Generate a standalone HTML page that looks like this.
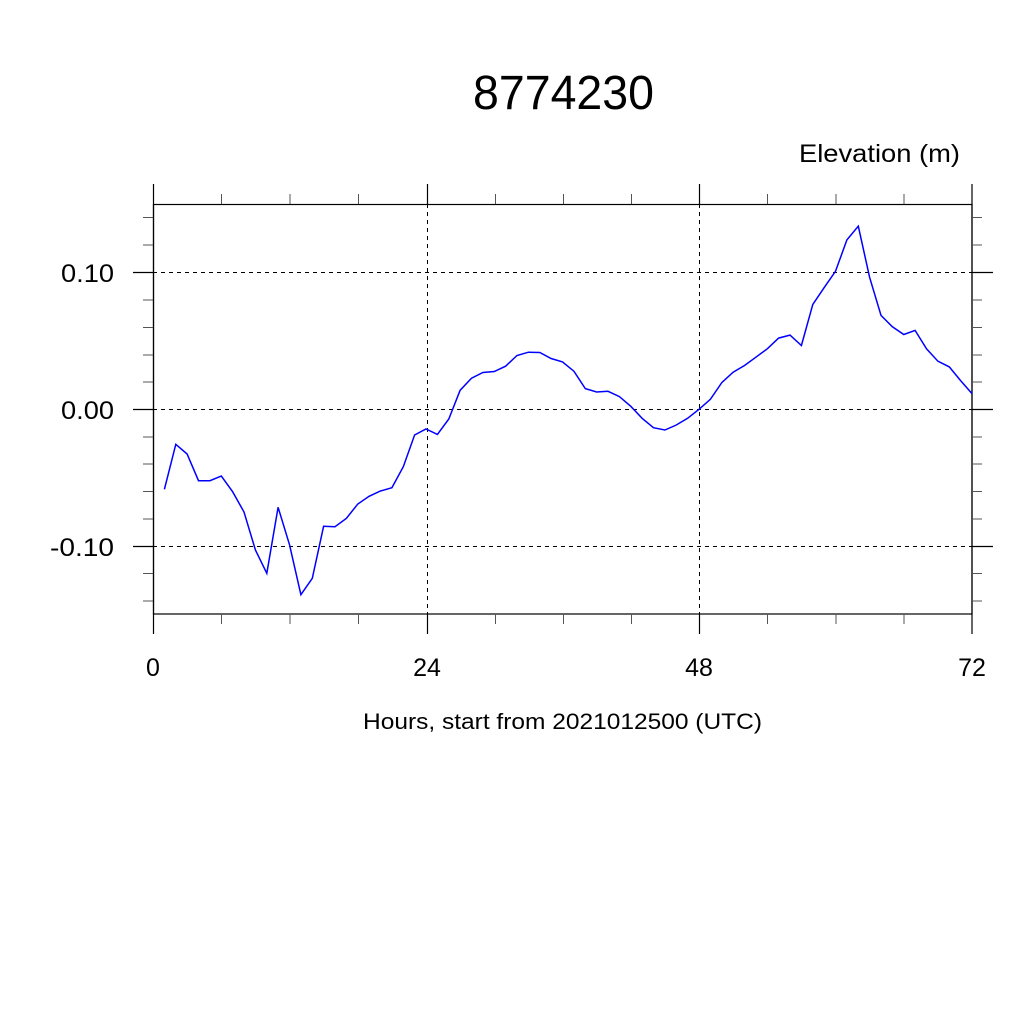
<!DOCTYPE html>
<html><head><meta charset="utf-8"><style>html,body{margin:0;padding:0;background:#fff}svg{display:block}</style></head>
<body>
<svg width="1024" height="1024" viewBox="0 0 1024 1024" xmlns="http://www.w3.org/2000/svg" font-family="'Liberation Sans', sans-serif">
<rect width="1024" height="1024" fill="#fff"/>
<text x="473" y="109" font-size="48" textLength="181" lengthAdjust="spacingAndGlyphs">8774230</text>
<text x="799" y="162" font-size="25" textLength="161" lengthAdjust="spacingAndGlyphs">Elevation (m)</text>
<g stroke="#000" stroke-width="1" stroke-dasharray="4,4" fill="none">
<line x1="153" y1="272.5" x2="972" y2="272.5"/>
<line x1="153" y1="409.5" x2="972" y2="409.5"/>
<line x1="153" y1="546.5" x2="972" y2="546.5"/>
<line x1="427.5" y1="204" x2="427.5" y2="614"/>
<line x1="699.5" y1="204" x2="699.5" y2="614"/>
</g>
<g stroke="#000" stroke-width="1.2" fill="none">
<rect x="153.5" y="204.5" width="818.5" height="409.5"/>
<line x1="153.5" y1="184" x2="153.5" y2="634"/>
<line x1="427.5" y1="184" x2="427.5" y2="204"/><line x1="427.5" y1="614" x2="427.5" y2="634"/>
<line x1="699.5" y1="184" x2="699.5" y2="204"/><line x1="699.5" y1="614" x2="699.5" y2="634"/>
<line x1="972" y1="184" x2="972" y2="634"/>
<line x1="133" y1="272.5" x2="153" y2="272.5"/><line x1="972" y1="272.5" x2="993" y2="272.5"/>
<line x1="133" y1="409.5" x2="153" y2="409.5"/><line x1="972" y1="409.5" x2="993" y2="409.5"/>
<line x1="133" y1="546.5" x2="153" y2="546.5"/><line x1="972" y1="546.5" x2="993" y2="546.5"/>
</g>
<g stroke="#555" stroke-width="1" fill="none">
<path d="M221.5 194V204M290 194V204M358.5 194V204M495.5 194V204M563.5 194V204M631.5 194V204M767.5 194V204M836 194V204M904 194V204"/>
<path d="M221.5 614V624M290 614V624M358.5 614V624M495.5 614V624M563.5 614V624M631.5 614V624M767.5 614V624M836 614V624M904 614V624"/>
<path d="M143 217.5H153M143 245H153M143 300H153M143 327.5H153M143 355H153M143 382H153M143 437H153M143 464H153M143 491.5H153M143 519H153M143 573.5H153M143 601H153"/>
<path d="M972 217.5H982M972 245H982M972 300H982M972 327.5H982M972 355H982M972 382H982M972 437H982M972 464H982M972 491.5H982M972 519H982M972 573.5H982M972 601H982"/>
</g>
<g font-size="25">
<text x="61" y="282" textLength="53" lengthAdjust="spacingAndGlyphs">0.10</text>
<text x="61" y="419" textLength="53" lengthAdjust="spacingAndGlyphs">0.00</text>
<text x="50" y="556" textLength="64" lengthAdjust="spacingAndGlyphs">-0.10</text>
</g>
<g font-size="25" text-anchor="middle">
<text x="153" y="676">0</text>
<text x="427" y="676">24</text>
<text x="699" y="676">48</text>
<text x="972" y="676">72</text>
</g>
<text x="363" y="729" font-size="22" textLength="399" lengthAdjust="spacingAndGlyphs">Hours, start from 2021012500 (UTC)</text>
<polyline fill="none" stroke="#0000ff" stroke-width="1.5" stroke-linejoin="miter" points="
164.4,489.3 175.8,444.3 187.1,454 198.5,480.7 209.9,480.7 221.3,476 232.6,491.7 244,512 255.4,550 266.8,573.3 278.1,507.3 289.5,544.7 300.9,594.7 312.3,578.3 323.6,526.3 335,526.7 346.4,518.3 357.8,504 369.1,496.3 380.5,491 391.9,487.7 403.3,466.7 414.6,435
426,429 437.4,434.4 448.8,419 460.1,390.3 471.5,378.2 482.9,372.5 494.3,371.5 505.6,366.2 517,355.5 528.4,352.2 539.8,352.5 551.1,358.5 562.5,361.9 573.9,371.2 585.3,388.6 596.6,392 608,391.3 619.4,396.6 630.8,406.3 642.1,418.3 653.5,427.7 664.9,430 676.3,425 687.6,418.3 699,409.3 710.4,399.3 721.8,382.6 733.1,372.2 744.5,365.5 755.9,357.2 767.3,348.8 778.6,338.1 790,335.1 801.4,345.5 812.8,304.4 824.1,287.7 835.5,271.3 846.9,239.9 858.3,226.2 869.6,277.3 881,315.4 892.4,326.8 903.8,334.5 915.1,330.4 926.5,348.8 937.9,361.2 949.3,366.9 960.6,380.6 972,393.6"/>
</svg>
</body></html>
